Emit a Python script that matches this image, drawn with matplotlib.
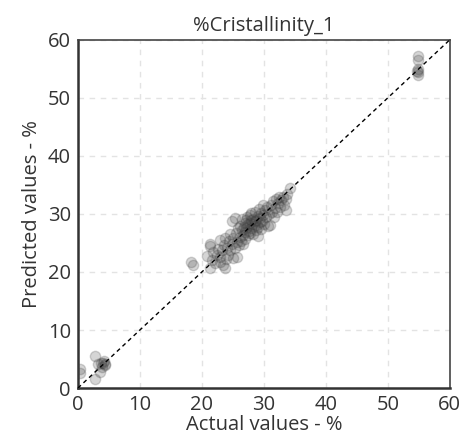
import matplotlib
matplotlib.use("Agg")
import matplotlib.pyplot as plt

# actual vs predicted crystallinity (%)
actual = [
    0.4, 0.4, 2.8, 2.8, 3.3, 3.6, 3.9, 4.1, 4.3, 4.4, 4.2, 3.8,
    18.2, 18.5,
    20.9, 21.3, 21.3, 21.3, 21.6, 21.8,
    22.2, 22.5, 22.6, 22.9, 22.9, 23.0, 23.2, 23.4, 23.7, 23.5, 23.8, 23.9,
    24.0, 24.2, 24.5, 24.4, 24.6, 24.8, 24.8, 25.0, 25.1, 25.3, 25.4, 25.6, 25.5, 25.7, 25.9,
    26.0, 26.1, 26.2, 26.3, 26.4, 26.5, 26.6, 26.7, 26.8, 26.9, 27.0, 27.0,
    27.1, 27.2, 27.3, 27.4, 27.5, 27.6, 27.7, 27.7, 27.8, 27.9, 28.0, 28.0,
    28.1, 28.2, 28.3, 28.4, 28.5, 28.6, 28.7, 28.8, 28.9, 29.0, 29.0,
    29.1, 29.2, 29.3, 29.4, 29.5, 29.6, 29.7, 29.8, 29.9, 30.0,
    30.2, 30.4, 30.5, 30.6, 30.8, 31.0, 31.1, 31.3, 31.5, 31.6, 31.8,
    32.0, 32.1, 32.3, 32.5, 32.6, 32.8, 33.1, 33.3, 33.5, 33.6, 33.8, 34.2,
    54.8, 54.8, 54.8, 54.8, 54.8, 54.7,
]
predicted = [
    3.3, 2.6, 5.6, 1.6, 4.1, 2.8, 3.6, 4.4, 3.9, 4.2, 4.6, 4.3,
    21.8, 21.2,
    22.8, 24.8, 24.5, 20.6, 22.0, 23.5,
    21.5, 23.0, 24.0, 25.5, 21.8, 22.6, 23.8, 21.2, 20.6, 24.6, 25.9, 22.3,
    24.2, 23.0, 23.8, 25.4, 26.5, 28.7, 24.8, 22.4, 25.9, 29.3, 24.1, 22.6, 26.8, 25.2, 27.5,
    24.6, 26.0, 28.0, 25.4, 27.2, 29.1, 26.4, 24.9, 27.8, 28.5, 26.9, 25.7,
    28.9, 27.5, 29.5, 26.3, 28.2, 27.1, 28.4, 29.8, 26.8, 28.9, 27.6, 30.1,
    28.3, 26.5, 29.2, 27.9, 28.7, 30.4, 27.3, 29.0, 28.1, 26.2, 29.6,
    27.8, 30.9, 28.6, 29.3, 27.4, 30.2, 28.8, 31.6, 29.9, 28.3,
    30.6, 29.4, 31.2, 27.9, 30.0, 28.1, 31.5, 30.4, 32.2, 29.5, 31.0,
    32.6, 30.3, 31.8, 33.0, 31.2, 32.4, 33.0, 31.6, 30.7, 32.5, 33.4, 34.4,
    57.2, 56.5, 55.0, 54.5, 54.0, 54.6,
]

ticks = [0, 10, 20, 30, 40, 50, 60]

plt.rcParams['font.family'] = ['Open Sans', 'DejaVu Sans']

fig = plt.figure(figsize=(4.72, 4.42), dpi=100)
ax = fig.add_axes([0.165, 0.122, 0.788, 0.788])

ax.scatter(actual, predicted, s=55, color='#404040', alpha=0.22, linewidths=1, zorder=3)
ax.plot([0, 60], [0, 60], color='black', linestyle=(0, (3, 2.5)), linewidth=1, zorder=4)

ax.set_xlim(0, 60)
ax.set_ylim(0, 60)
ax.set_xticks(ticks)
ax.set_yticks(ticks)
ax.grid(True, color='#e3e3e3', linestyle=(0, (4, 4)), linewidth=1)
ax.set_axisbelow(True)
ax.tick_params(length=0, labelsize=14.5, colors='#333333', pad=5)

for side in ['top', 'right']:
    ax.spines[side].set_color('#444444')
    ax.spines[side].set_linewidth(1.2)
for side in ['left', 'bottom']:
    ax.spines[side].set_color('#333333')
    ax.spines[side].set_linewidth(1.8)

ax.set_title('%Cristallinity_1', fontsize=14.5, color='#333333', pad=6)
ax.set_xlabel('Actual values - %', fontsize=14.5, color='#333333', labelpad=0)
ax.set_ylabel('Predicted values - %', fontsize=14.5, color='#333333', labelpad=4)

fig.savefig('out.png', dpi=100)
